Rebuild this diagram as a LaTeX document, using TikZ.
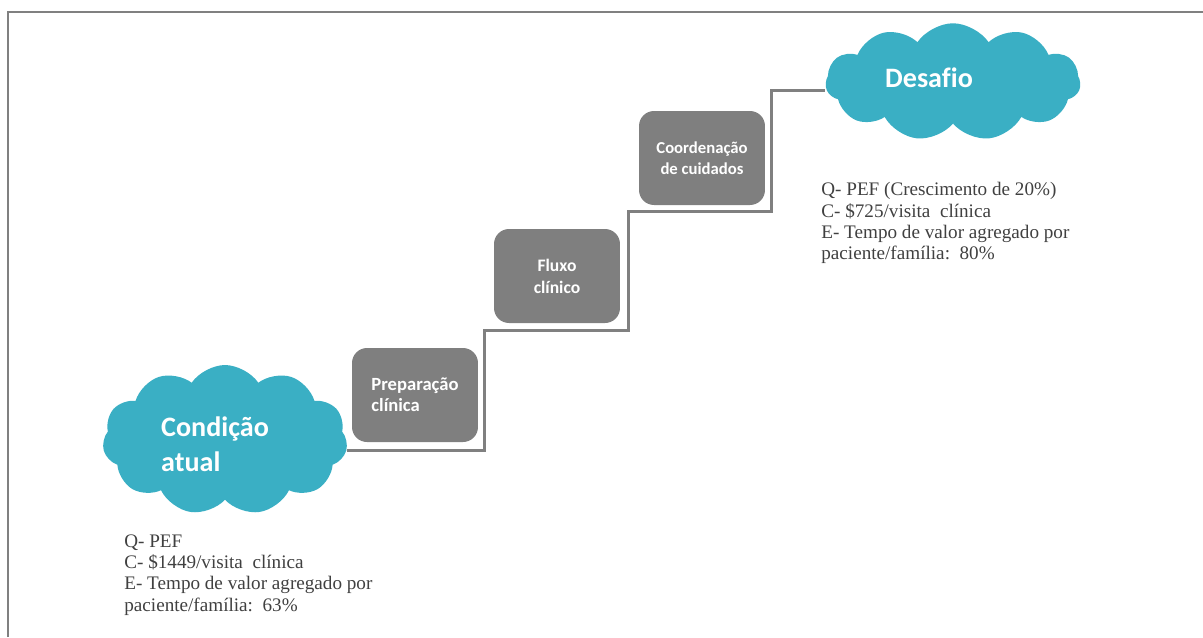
\documentclass[tikz,border=0pt]{standalone}
\usepackage{fontspec}
\setmainfont{Liberation Serif}
\newfontfamily\boxfont{Carlito}[Ligatures=NoCommon]
\usetikzlibrary{shapes.symbols}
\definecolor{teal}{RGB}{58,175,196}
\definecolor{stepgray}{RGB}{127,127,127}
\definecolor{linegray}{RGB}{128,128,128}
\definecolor{txtgray}{RGB}{64,64,64}
\begin{document}
\begin{tikzpicture}[x=0.02cm,y=-0.02cm,
  puff/.style={cloud, cloud puffs=11, cloud puff arc=112, cloud ignores aspect, fill=teal, draw=none, inner sep=0pt},
  stepbox/.style={fill=stepgray, rounded corners=0.3cm, minimum width=2.52cm, minimum height=1.88cm,
    inner sep=0pt, text=white, font=\boxfont\bfseries},
  cloudlabel/.style={text=white, font=\boxfont\bfseries\fontsize{16}{19.8}\selectfont, inner sep=0pt},
  metrics/.style={text=txtgray, align=left, inner sep=0pt, anchor=north west,
    font=\fontsize{10.9}{12.2}\selectfont},
  stair/.style={draw=linegray, line width=1.7pt},
  frame/.style={draw=linegray, line width=1.1pt}]
\useasboundingbox (0,0) rectangle (1203,637);
% frame
\draw[frame] (8,637) -- (8,12) -- (1203,12);

% clouds
\node[puff, minimum width=4.9cm, minimum height=3.0cm] (cond) at (225,440) {};
\node[puff, minimum width=5.1cm, minimum height=2.35cm] (des) at (953,82) {};

% stairs
\coordinate (s1) at (484,450);
\coordinate (s2) at (484,330);
\coordinate (s3) at (628,330);
\coordinate (s4) at (628,211);
\coordinate (s5) at (771,211);
\coordinate (s6) at (771,90);
\draw[stair] (cond.east |- s1) -- (s1) -- (s2) -- (s3) -- (s4) -- (s5) -- (s6) -- (des.west |- s6);

% steps
\node[stepbox, align=left, font=\boxfont\bfseries\fontsize{10.6}{12}\selectfont] (prep) at (415,395) {Preparação\\clínica};
\node[stepbox, align=center, font=\boxfont\bfseries\fontsize{10}{12.6}\selectfont] (flux) at (557,276) {Fluxo\\clínico};
\node[stepbox, align=center, font=\boxfont\bfseries\fontsize{9.5}{11.9}\selectfont] (coord) at (702,158) {Coordenação\\de cuidados};

% cloud labels
\node[cloudlabel, align=left] (condlbl) at (215,444) {Condição\\atual};
\node[cloudlabel] (deslbl) at (929,78) {Desafio};

% metrics
\node[metrics] (curm) at (124,534) {Q- PEF\\C- \$1449/visita\ \ clínica\\E- Tempo de valor agregado por\\paciente/família:\ \ 63\%};
\node[metrics] (goalm) at (821,182) {Q- PEF (Crescimento de 20\%)\\C- \$725/visita\ \ clínica\\E- Tempo de valor agregado por\\paciente/família:\ \ 80\%};
\end{tikzpicture}
\end{document}
